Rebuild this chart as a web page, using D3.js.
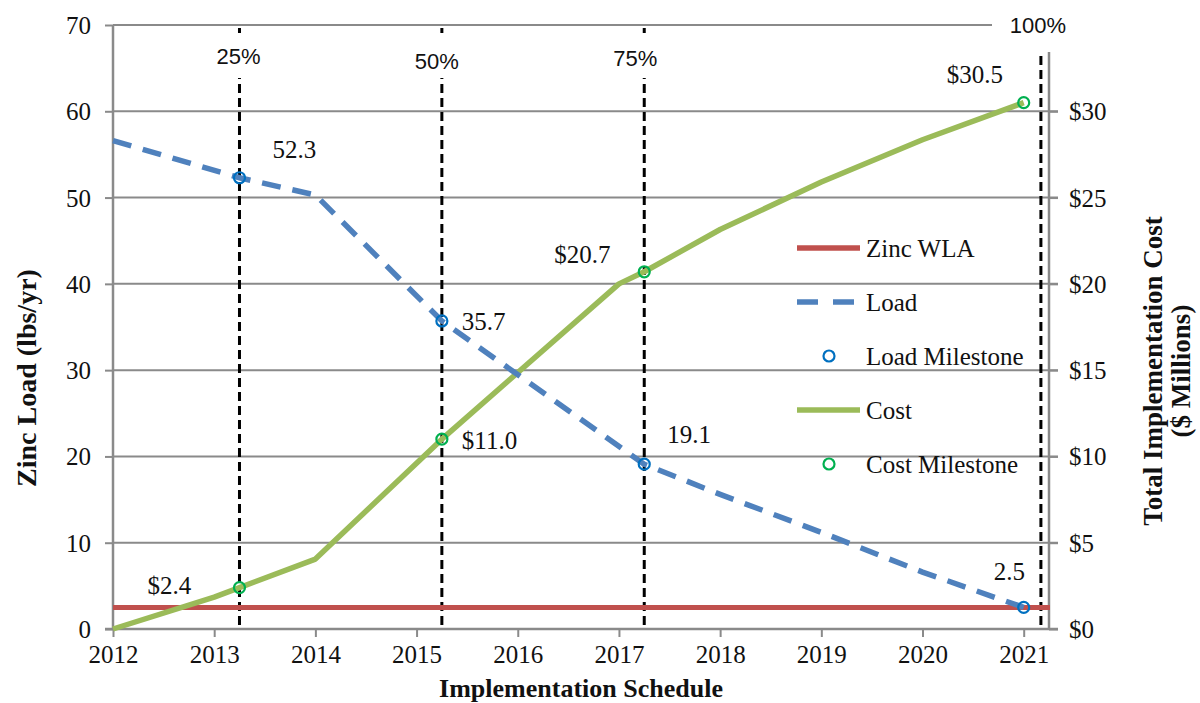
<!DOCTYPE html>
<html>
<head>
<meta charset="utf-8">
<script src="https://cdn.jsdelivr.net/npm/d3@7"></script>
<style>
  html, body { margin: 0; padding: 0; background: #fff; }
  svg { display: block; }
  text { font-family: "Liberation Serif", "Times New Roman", serif; fill: #111; }
</style>
</head>
<body>
<svg id="chart" width="1200" height="703"></svg>
<script>
// ---- data ----
const loadYears = [2012, 2013.25, 2014, 2015.25, 2017.25, 2018, 2019, 2020, 2021];
const loadValues = [56.6, 52.3, 50.3, 35.7, 19.1, 15.6, 11.2, 6.6, 2.5];

const costYears = [2012, 2013, 2013.25, 2014, 2015.25, 2017, 2017.25, 2018, 2019, 2020, 2021];
const costValues = [0, 1.85, 2.4, 4.05, 11.0, 20.0, 20.7, 23.15, 25.9, 28.35, 30.5];

const wlaValue = 2.5;

const milestoneYears = [2013.25, 2015.25, 2017.25, 2021];
const loadMilestones = [52.3, 35.7, 19.1, 2.5];
const costMilestones = [2.4, 11.0, 20.7, 30.5];
const costMilestoneLabels = ["$2.4", "$11.0", "$20.7", "$30.5"];

const phaseYears = [2013.25, 2015.25, 2017.25, 2021.17];
const phaseLabels = ["25%", "50%", "75%", "100%"];

const yearTicks = [2012, 2013, 2014, 2015, 2016, 2017, 2018, 2019, 2020, 2021];
const loadTicks = [0, 10, 20, 30, 40, 50, 60, 70];
const costTicks = [0, 5, 10, 15, 20, 25, 30];

const legendItems = ["Zinc WLA", "Load", "Load Milestone", "Cost", "Cost Milestone"];

// ---- layout ----
const plotL = 113, plotR = 1049, plotT = 25, plotB = 629;
const serif = "'Liberation Serif', 'Times New Roman', serif";
const sans = "'Liberation Sans', Arial, sans-serif";
const colors = {
  wla: "#C0504D", load: "#4F81BD", loadMs: "#0070C0",
  cost: "#9BBB59", costMs: "#00B050", grid: "#8a8a8a"
};

const svg = d3.select("#chart");

const x = d3.scaleLinear().domain([2012, 2021.25]).range([plotL, plotR]);
const yL = d3.scaleLinear().domain([0, 70]).range([plotB, plotT]);
const yR = d3.scaleLinear().domain([0, 35]).range([plotB, plotT]);

// horizontal gridlines (extend past right axis as tick marks)
svg.append("g")
  .selectAll("line")
  .data(loadTicks.filter(d => d > 0))
  .join("line")
  .attr("x1", plotL)
  .attr("x2", d => d === 70 ? 992 : plotR + 9)
  .attr("y1", d => yL(d)).attr("y2", d => yL(d))
  .attr("stroke", colors.grid).attr("stroke-width", 2);

function styleTicks(g) {
  g.attr("font-family", null).attr("font-size", null);
  g.selectAll(".tick line").attr("stroke", colors.grid).attr("stroke-width", 2);
  g.selectAll(".tick text")
    .style("font-family", serif)
    .style("font-size", "25px")
    .style("fill", "#111");
}

// left axis
const gL = svg.append("g").attr("transform", `translate(${plotL},0)`)
  .call(d3.axisLeft(yL).tickValues(loadTicks).tickSize(8).tickPadding(14).tickFormat(d3.format("d")));
gL.select(".domain").attr("stroke", colors.grid).attr("stroke-width", 2.5).attr("d", `M0,${plotT}V${plotB}`);
styleTicks(gL);
gL.selectAll(".tick text").attr("dy", "0.34em");

// bottom axis
const gB = svg.append("g").attr("transform", `translate(0,${plotB})`)
  .call(d3.axisBottom(x).tickValues(yearTicks).tickSize(8).tickPadding(8).tickFormat(d3.format("d")));
gB.select(".domain").attr("stroke", colors.grid).attr("stroke-width", 2.5).attr("d", `M${plotL - 8},0H${plotR + 9}`);
styleTicks(gB);

// right axis
const gR = svg.append("g").attr("transform", `translate(${plotR},0)`)
  .call(d3.axisRight(yR).tickValues(costTicks).tickSize(9).tickPadding(11).tickFormat(d => "$" + d));
gR.select(".domain").attr("stroke", colors.grid).attr("stroke-width", 2.5).attr("d", `M0,52V${plotB}`);
styleTicks(gR);
gR.selectAll(".tick text").attr("dy", "0.34em");

// phase markers (vertical dashed lines)
svg.append("g")
  .selectAll("line")
  .data(phaseYears)
  .join("line")
  .attr("x1", d => x(d)).attr("x2", d => x(d))
  .attr("y1", 28).attr("y2", plotB - 1)
  .attr("stroke", "#000").attr("stroke-width", 3)
  .attr("stroke-dasharray", "9,5");

// white boxes behind phase labels
const phaseLabelY = [56, 61, 58, 25];
svg.append("g")
  .selectAll("rect")
  .data(phaseYears)
  .join("rect")
  .attr("x", (d, i) => i === 3 ? 993 : x(d) - 30)
  .attr("y", (d, i) => i === 3 ? 0 : 33)
  .attr("width", (d, i) => i === 3 ? 90 : 60)
  .attr("height", (d, i) => i === 3 ? 52 : 45)
  .attr("fill", "#fff");

svg.append("g")
  .selectAll("text")
  .data(phaseLabels)
  .join("text")
  .attr("x", (d, i) => i === 3 ? 1038 : x(phaseYears[i]) - (i === 1 ? 5 : i === 2 ? 9 : 1))
  .attr("y", (d, i) => phaseLabelY[i])
  .attr("dy", "0.35em")
  .attr("text-anchor", "middle")
  .style("font-family", sans)
  .style("font-size", "22px")
  .text(d => d);

// Zinc WLA
svg.append("line")
  .attr("x1", x(2012)).attr("x2", plotR + 1)
  .attr("y1", yL(wlaValue)).attr("y2", yL(wlaValue))
  .attr("stroke", colors.wla).attr("stroke-width", 5);

// Cost line
const costData = costYears.map((yr, i) => [yr, costValues[i]]);
svg.append("path")
  .datum(costData)
  .attr("fill", "none")
  .attr("stroke", colors.cost)
  .attr("stroke-width", 5.5)
  .attr("stroke-linejoin", "round")
  .attr("d", d3.line().x(d => x(d[0])).y(d => yR(d[1])));

// Load line
const loadData = loadYears.map((yr, i) => [yr, loadValues[i]]);
svg.append("path")
  .datum(loadData)
  .attr("fill", "none")
  .attr("stroke", colors.load)
  .attr("stroke-width", 5.5)
  .attr("stroke-dasharray", "19,12")
  .attr("d", d3.line().x(d => x(d[0])).y(d => yL(d[1])));

// milestones
svg.append("g")
  .selectAll("circle")
  .data(milestoneYears)
  .join("circle")
  .attr("cx", d => x(d))
  .attr("cy", (d, i) => yL(loadMilestones[i]))
  .attr("r", 5.5)
  .attr("fill", "none").attr("stroke", colors.loadMs).attr("stroke-width", 2.2);

svg.append("g")
  .selectAll("circle")
  .data(milestoneYears)
  .join("circle")
  .attr("cx", d => x(d))
  .attr("cy", (d, i) => yR(costMilestones[i]))
  .attr("r", 5.5)
  .attr("fill", "none").attr("stroke", colors.costMs).attr("stroke-width", 2.2);

// milestone labels
const loadLabelOffset = [[33, -20], [20, 9], [23, -21], [-30, -27]];
svg.append("g")
  .selectAll("text")
  .data(loadMilestones)
  .join("text")
  .attr("x", (d, i) => x(milestoneYears[i]) + loadLabelOffset[i][0])
  .attr("y", (d, i) => yL(d) + loadLabelOffset[i][1])
  .attr("font-size", 25)
  .text(d => d3.format(".1f")(d));

const costLabelOffset = [[-92, 6], [20, 10], [-90, -9], [-77, -20]];
svg.append("g")
  .selectAll("text")
  .data(costMilestones)
  .join("text")
  .attr("x", (d, i) => x(milestoneYears[i]) + costLabelOffset[i][0])
  .attr("y", (d, i) => yR(d) + costLabelOffset[i][1])
  .attr("font-size", 25)
  .text((d, i) => costMilestoneLabels[i]);

// legend
const lgX = 797, lgY0 = 248, lgStep = 54;
const lg = svg.append("g");
legendItems.forEach((name, i) => {
  const yy = lgY0 + i * lgStep;
  if (i === 0 || i === 3) {
    lg.append("line").attr("x1", lgX).attr("x2", lgX + 63).attr("y1", yy).attr("y2", yy)
      .attr("stroke", i === 0 ? colors.wla : colors.cost).attr("stroke-width", 5.5);
  } else if (i === 1) {
    lg.append("line").attr("x1", lgX).attr("x2", lgX + 63).attr("y1", yy).attr("y2", yy)
      .attr("stroke", colors.load).attr("stroke-width", 5.5).attr("stroke-dasharray", "21,15");
  } else {
    lg.append("circle").attr("cx", lgX + 32).attr("cy", yy).attr("r", 5.5)
      .attr("fill", "none").attr("stroke", i === 2 ? colors.loadMs : colors.costMs).attr("stroke-width", 2.2);
  }
  lg.append("text").attr("x", lgX + 69).attr("y", yy + 9).attr("font-size", 25).text(name);
});

// axis titles
svg.append("text")
  .attr("x", 581).attr("y", 697)
  .attr("text-anchor", "middle")
  .attr("font-size", 26).attr("font-weight", "bold")
  .text("Implementation Schedule");

svg.append("text")
  .attr("transform", "translate(36,378) rotate(-90)")
  .attr("text-anchor", "middle")
  .attr("font-size", 28).attr("font-weight", "bold")
  .text("Zinc Load (lbs/yr)");

const rt = svg.append("text")
  .attr("transform", "translate(1162,371) rotate(-90)")
  .attr("text-anchor", "middle")
  .attr("font-size", 27).attr("font-weight", "bold");
rt.append("tspan").attr("x", 0).attr("dy", 0).text("Total Implementation Cost");
rt.append("tspan").attr("x", 0).attr("dy", 28).text("($ Millions)");
</script>
</body>
</html>
